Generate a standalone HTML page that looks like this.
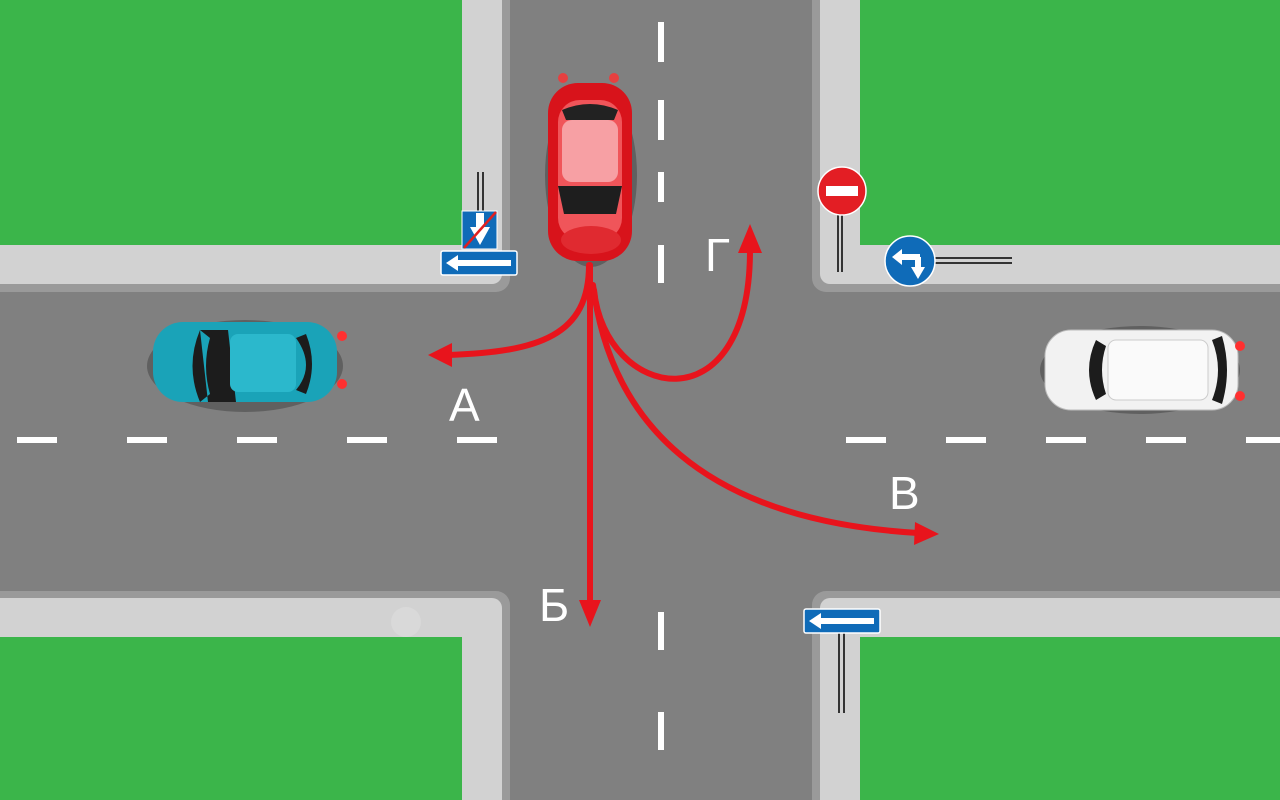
<!DOCTYPE html>
<html><head><meta charset="utf-8"><style>
body{margin:0;width:1280px;height:800px;overflow:hidden;background:#808080}
svg{display:block}
</style></head><body>
<svg width="1280" height="800" viewBox="0 0 1280 800" xmlns="http://www.w3.org/2000/svg">
<rect width="1280" height="800" fill="#808080"/>
<g fill="#9a9a9a">
<rect x="-20" y="-20" width="530" height="312" rx="14"/>
<rect x="812" y="-20" width="500" height="312" rx="14"/>
<rect x="-20" y="591" width="530" height="240" rx="14"/>
<rect x="812" y="591" width="500" height="240" rx="14"/>
</g>
<g fill="#d2d2d2">
<rect x="-20" y="-20" width="522" height="304" rx="10"/>
<rect x="820" y="-20" width="492" height="304" rx="10"/>
<rect x="-20" y="598" width="522" height="230" rx="10"/>
<rect x="820" y="598" width="492" height="230" rx="10"/>
</g>
<g fill="#3bb54a">
<rect x="0" y="0" width="462" height="245"/>
<rect x="860" y="0" width="420" height="245"/>
<rect x="0" y="637" width="462" height="163"/>
<rect x="860" y="637" width="420" height="163"/>
</g>
<g fill="#fff">
<rect x="658" y="22" width="6" height="40"/>
<rect x="658" y="100" width="6" height="40"/>
<rect x="658" y="172" width="6" height="30"/>
<rect x="658" y="245" width="6" height="38"/>
<rect x="658" y="612" width="6" height="38"/>
<rect x="658" y="712" width="6" height="38"/>
<rect x="17" y="437" width="40" height="6"/>
<rect x="127" y="437" width="40" height="6"/>
<rect x="237" y="437" width="40" height="6"/>
<rect x="347" y="437" width="40" height="6"/>
<rect x="457" y="437" width="40" height="6"/>
<rect x="846" y="437" width="40" height="6"/>
<rect x="946" y="437" width="40" height="6"/>
<rect x="1046" y="437" width="40" height="6"/>
<rect x="1146" y="437" width="40" height="6"/>
<rect x="1246" y="437" width="40" height="6"/>
</g>
<g stroke="#333" stroke-width="2"><line x1="478" y1="172" x2="478" y2="212"/><line x1="483" y1="172" x2="483" y2="212"/>
<line x1="842" y1="212" x2="842" y2="272"/><line x1="838" y1="212" x2="838" y2="272"/>
<line x1="930" y1="258" x2="1012" y2="258"/><line x1="930" y1="263" x2="1012" y2="263"/>
<line x1="839" y1="632" x2="839" y2="713"/><line x1="844" y1="632" x2="844" y2="713"/></g>
<rect x="462" y="211" width="35" height="38" fill="#0f6bb8" stroke="#fff" stroke-width="1"/>
<path d="M476 213h8v14h6l-10 18-10-18h6z" fill="#fff"/>
<line x1="464" y1="248" x2="496" y2="212" stroke="#e02020" stroke-width="2.5"/>
<rect x="441" y="251" width="76" height="24" rx="2" fill="#0f6bb8" stroke="#fff" stroke-width="1.5"/>
<path d="M446 263l12-8v5h53v6h-53v5z" fill="#fff"/>
<rect x="804" y="609" width="76" height="24" rx="2" fill="#0f6bb8" stroke="#fff" stroke-width="1.5"/>
<path d="M809 621l12-8v5h53v6h-53v5z" fill="#fff"/>
<circle cx="842" cy="191" r="24" fill="#e31e24" stroke="#fff" stroke-width="1.5"/>
<rect x="826" y="186" width="32" height="10" fill="#fff"/>
<circle cx="910" cy="261" r="25" fill="#0f6bb8" stroke="#fff" stroke-width="1.5"/>
<path d="M892 257l10-8v5h18v6h-18v5z M915 257h6v10l4 0-7 12-7-12 4 0z" fill="#fff"/>
<g>
<ellipse cx="591" cy="175" rx="46" ry="92" fill="#000" opacity="0.25"/>
<rect x="548" y="83" width="84" height="178" rx="30" fill="#d8131b"/>
<rect x="558" y="100" width="64" height="140" rx="22" fill="#f0555a"/>
<path d="M562 110q28-12 56 0l-4 10h-48z" fill="#222"/>
<rect x="562" y="120" width="56" height="62" rx="10" fill="#f7a0a4"/>
<path d="M558 186h64l-6 28h-52z" fill="#1e1e1e"/>
<ellipse cx="591" cy="240" rx="30" ry="14" fill="#e02a30"/>
<circle cx="563" cy="78" r="5" fill="#ff3030" opacity="0.8"/><circle cx="614" cy="78" r="5" fill="#ff3030" opacity="0.8"/>
</g>
<g>
<ellipse cx="245" cy="366" rx="98" ry="46" fill="#000" opacity="0.25"/>
<rect x="153" y="322" width="184" height="80" rx="30" fill="#1aa3b8"/>
<path d="M200 330h28l8 72h-28z M200 330q-15 36 0 72l10-8q-8-28 0-56z" fill="#1c1c1c"/>
<rect x="230" y="334" width="66" height="58" rx="8" fill="#2bb8cc"/>
<path d="M296 338q20 28 0 52l10 4q12-30 0-60z" fill="#1c1c1c"/>
<circle cx="342" cy="336" r="5" fill="#ff3030"/><circle cx="342" cy="384" r="5" fill="#ff3030"/>
</g>
<g>
<ellipse cx="1140" cy="370" rx="100" ry="44" fill="#000" opacity="0.25"/>
<rect x="1045" y="330" width="193" height="80" rx="26" fill="#f2f2f2" stroke="#bbb"/>
<path d="M1096 340q-14 30 0 60l10-6q-8-24 0-48z" fill="#1c1c1c"/>
<rect x="1108" y="340" width="100" height="60" rx="8" fill="#fafafa" stroke="#ccc"/>
<path d="M1212 340q12 30 0 60l10 4q10-34 0-68z" fill="#1c1c1c"/>
<circle cx="1240" cy="346" r="5" fill="#ff3030"/><circle cx="1240" cy="396" r="5" fill="#ff3030"/>
</g>
<circle cx="406" cy="622" r="15" fill="#e0e0e0" opacity="0.5"/>
<g stroke="#e8141c" stroke-width="6" fill="none" stroke-linecap="round">
<path d="M589 265C589 335 540 352 448 355"/>
<path d="M590 265L590 605"/>
<path d="M593 285C610 420 700 520 918 533"/>
<path d="M594 290C605 400 750 430 750 250"/>
</g>
<g fill="#e8141c">
<path d="M428 355l24-12v24z"/>
<path d="M590 627l-11-27h22z"/>
<path d="M939 534l-25 11 1-23z"/>
<path d="M750 224l-12 29h24z"/>
</g>
<g fill="#fff" font-family="Liberation Sans, DejaVu Sans, sans-serif" font-size="46">
<text x="449" y="421">А</text>
<text x="539" y="621">Б</text>
<text x="889" y="509">В</text>
<text x="705" y="271">Г</text>
</g>
</svg>
</body></html>
